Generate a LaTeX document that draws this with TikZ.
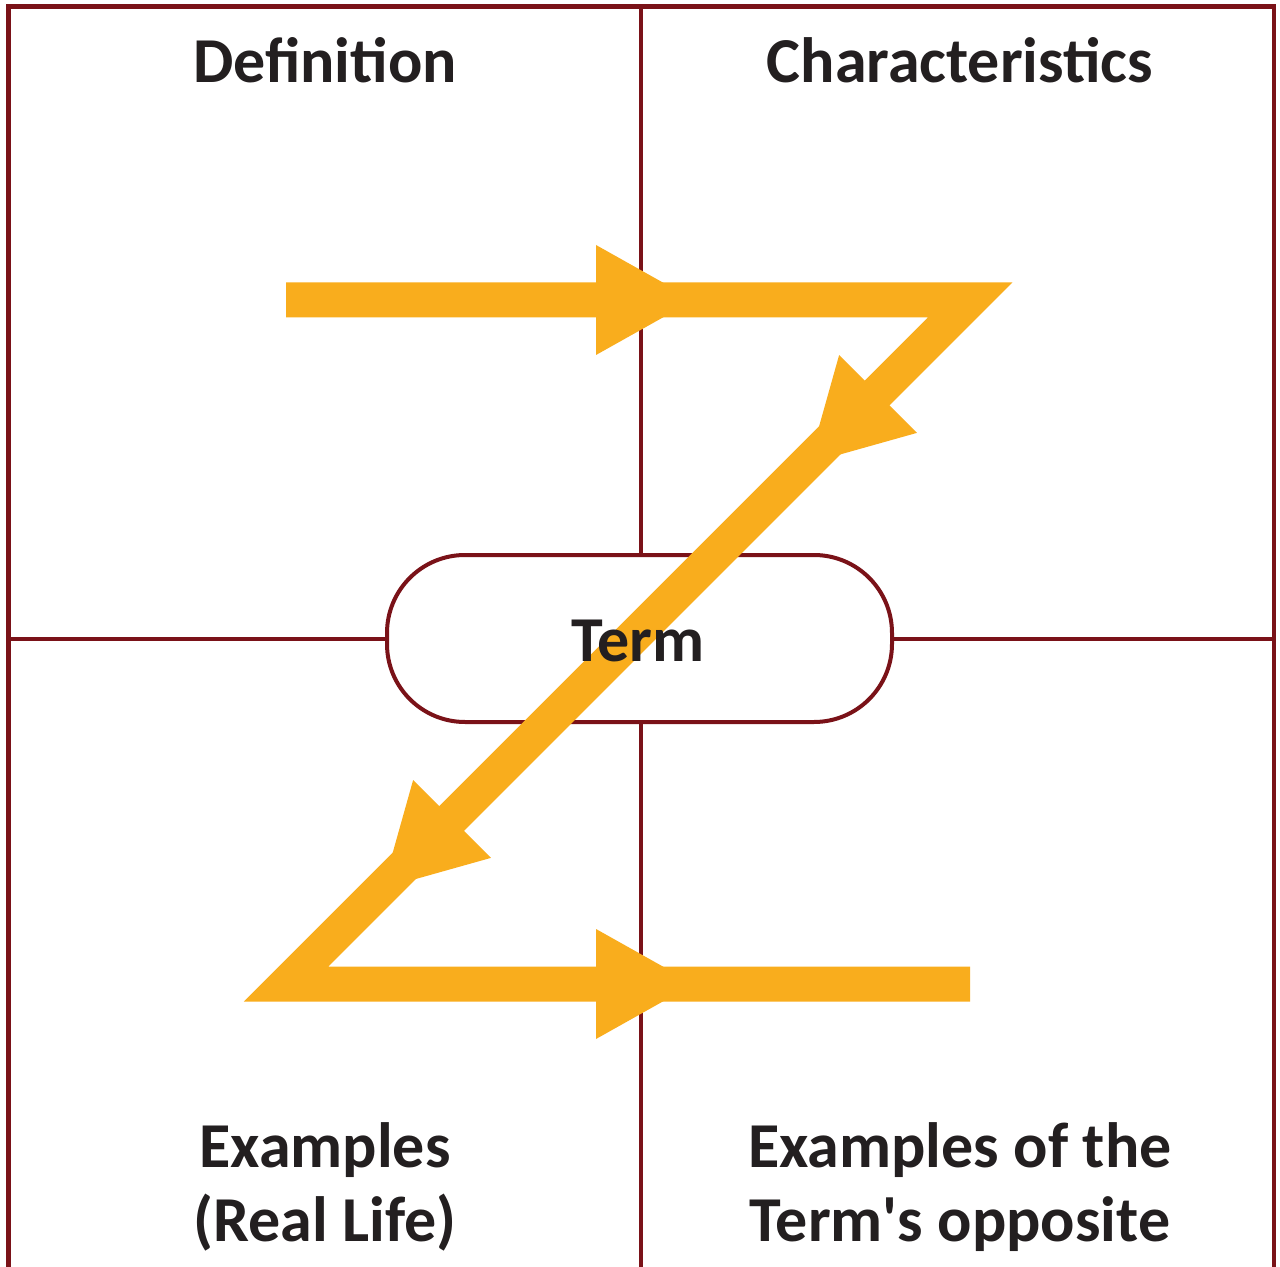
\documentclass[tikz,border=0pt]{standalone}
\usepackage{fontspec}
\setmainfont{Carlito}[Ligatures=TeXOff]
\definecolor{zorange}{HTML}{F9AD1D}
\definecolor{gridred}{HTML}{7A1218}
\definecolor{txtdark}{HTML}{231F20}
\begin{document}
\begin{tikzpicture}[x=0.5pt,y=-0.5pt,
  gridline/.style={draw=gridred,line width=2.4pt},
  label/.style={text=txtdark,font=\fontsize{32}{37}\selectfont\bfseries,align=center,inner sep=0pt},
  zline/.style={draw=zorange,line width=17.5pt,line join=miter,line cap=butt},
  zhead/.pic={\fill[zorange] (0,-55) -- (98,0) -- (0,55) -- cycle;}]
\useasboundingbox (0,0) rectangle (1280,1267);
\fill[white] (0,0) rectangle (1280,1267);
% grid
\coordinate (tl) at (8.5,6.5);
\coordinate (tr) at (1274,6.5);
\coordinate (bl) at (8.5,1267);
\coordinate (br) at (1274,1267);
\coordinate (mt) at (641,6.5);
\coordinate (mb) at (641,1267);
\coordinate (ml) at (8.5,639);
\coordinate (mr) at (1274,639);
\draw[gridline,line join=miter] (bl) -- (tl) -- (tr) -- (br);
\draw[gridline] (mt) -- (mb);
\draw[gridline] (ml) -- (mr);
% term box
\node[draw=gridred,fill=white,line width=2pt,rounded corners=39pt,minimum width=252.5pt,minimum height=83.5pt,inner sep=0pt] (termbox) at (639.5,638.5) {};
% Z path
\coordinate (zs) at (286,300);
\coordinate (z1) at (970,300);
\coordinate (z2) at (286,984);
\coordinate (ze) at (970,984);
\draw[zline] (zs) -- (z1) -- (z2) -- (ze);
\pic at (596,300) {zhead};
\pic[rotate=225] at (878,394) {zhead};
\pic[rotate=225] at (452,819) {zhead};
\pic at (596,984) {zhead};
% labels
\node[label,anchor=base] (term) at (638,661) {Term};
\node[label,anchor=base] (def) at (325,83) {Definition};
\node[label,anchor=base] (char) at (960,83) {Characteristics};
\node[label,anchor=base] (ex1) at (325,1241) {Examples\\(Real Life)};
\node[label,anchor=base] (ex2) at (960,1241) {Examples of the\\Term's opposite};
\end{tikzpicture}
\end{document}
